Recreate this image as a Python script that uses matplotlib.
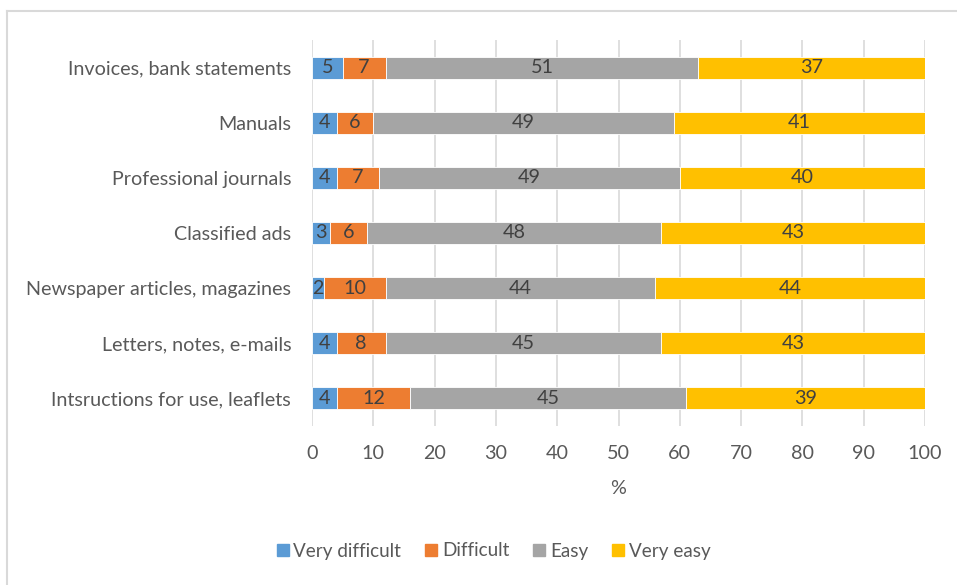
import numpy as np
import matplotlib.pyplot as plt
from matplotlib.lines import Line2D

categories = ['Intsructions for use, leaflets', 'Letters, notes, e-mails',
              'Newspaper articles, magazines', 'Classified ads',
              'Professional journals', 'Manuals', 'Invoices, bank statements']
very_difficult = [4, 4, 2, 3, 4, 4, 5]
difficult = [12, 8, 10, 6, 7, 6, 7]
easy = [45, 45, 44, 48, 49, 49, 51]
very_easy = [39, 43, 44, 43, 40, 41, 37]

series = [('Very difficult', very_difficult, '#5B9BD5'),
          ('Difficult', difficult, '#ED7D31'),
          ('Easy', easy, '#A5A5A5'),
          ('Very easy', very_easy, '#FFC000')]

plt.rcParams['font.family'] = ['Lato', 'DejaVu Sans']
txt = '#595959'
fs = 14.2

fig = plt.figure(figsize=(9.57, 5.85), dpi=100)
ax = fig.add_axes([312 / 957, 1 - 426 / 585, (925 - 312) / 957, (426 - 40) / 585])

y = np.arange(len(categories))
left = np.zeros(len(categories))
for name, vals, color in series:
    vals = np.array(vals, dtype=float)
    ax.barh(y, vals, left=left, height=0.4, color=color, edgecolor='white',
            linewidth=0.6, label=name, zorder=3)
    for yi, l, v in zip(y, left, vals):
        ax.text(l + v / 2, yi, f'{int(v)}', ha='center', va='center',
                fontsize=fs, color='#404040', zorder=4)
    left += vals

ax.set_xlim(0, 100)
ax.set_ylim(-0.5, len(categories) - 0.5)
ax.set_xticks(range(0, 101, 10))
ax.set_yticks(y)
ax.set_yticklabels(categories)
ax.tick_params(axis='both', length=0, labelsize=fs, colors=txt)
ax.tick_params(axis='x', pad=14)
ax.tick_params(axis='y', pad=15)
ax.grid(axis='x', color='#D9D9D9', linewidth=1.2, zorder=0)
for s in ax.spines.values():
    s.set_visible(False)
ax.set_xlabel('%', fontsize=fs, color=txt, labelpad=13)

handles = [Line2D([], [], marker='s', linestyle='', markersize=9,
                  markerfacecolor=c, markeredgecolor=c) for _, _, c in series]
fig.legend(handles, [n for n, _, _ in series], loc='center',
           bbox_to_anchor=(492 / 957, 1 - 551 / 585), ncol=4, frameon=False,
           fontsize=13.6, labelcolor=txt, handletextpad=0.05, columnspacing=1.1,
           handlelength=1.0)

# chart-area border (top and left edges visible)
fig.add_artist(Line2D([7 / 957, 7 / 957], [0, 1 - 11 / 585], transform=fig.transFigure,
                      color='#D9D9D9', linewidth=1.5))
fig.add_artist(Line2D([7 / 957, 1], [1 - 11 / 585, 1 - 11 / 585], transform=fig.transFigure,
                      color='#D9D9D9', linewidth=1.5))

fig.savefig('out.png', dpi=100)
